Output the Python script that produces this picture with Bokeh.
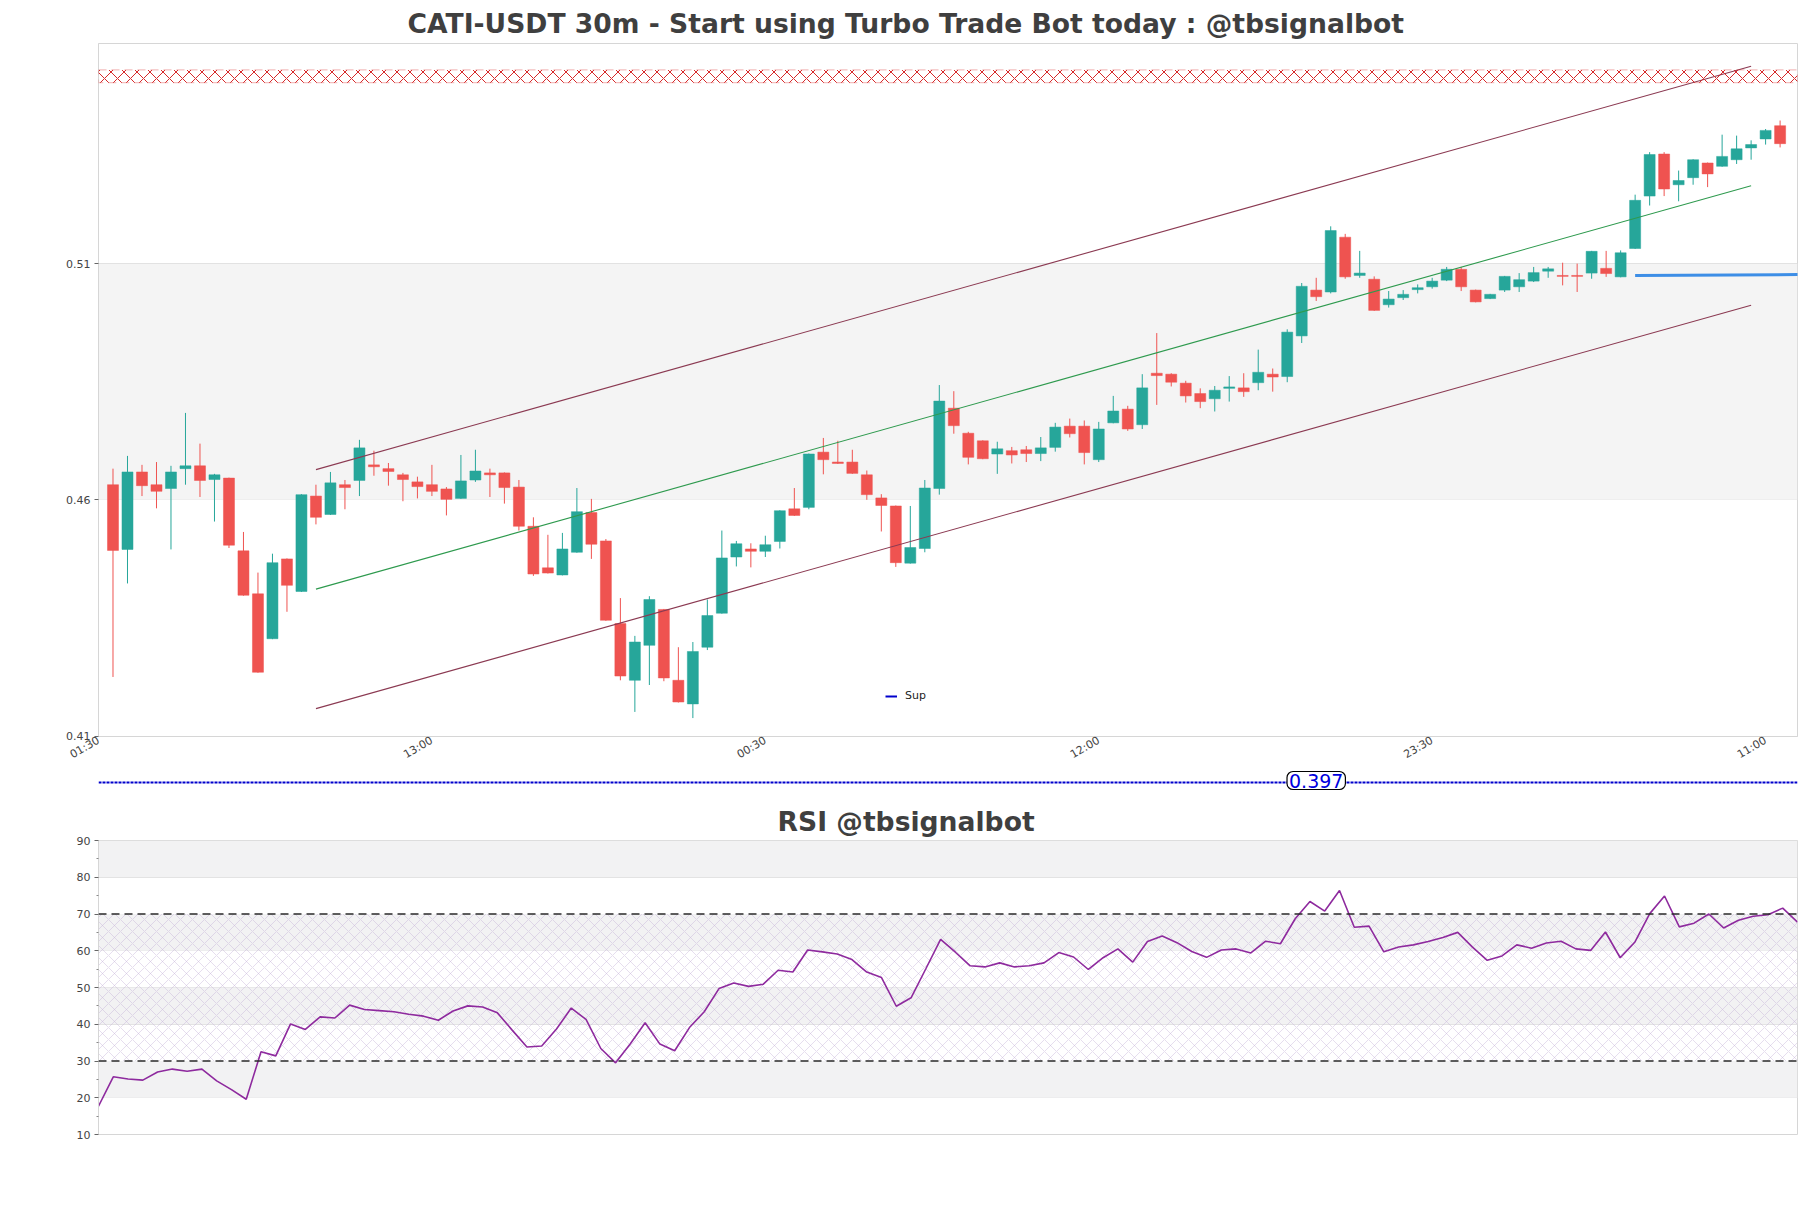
import math
from bokeh.plotting import figure
from bokeh.models import (Range1d, ColumnDataSource, FixedTicker, Span, Label,
                          Legend, LegendItem, BoxAnnotation)
from bokeh.layouts import column
from bokeh.embed import file_html
from bokeh.resources import INLINE

TITLE = "CATI-USDT 30m - Start using Turbo Trade Bot today : @tbsignalbot"
RSI_TITLE = "RSI @tbsignalbot"

candle_index = list(range(1, 117))
opens = [0.4632, 0.4495, 0.4659, 0.4632, 0.4624, 0.4666, 0.4672, 0.4643, 0.4646, 0.4492,
         0.4401, 0.4306, 0.4475, 0.4406, 0.4608, 0.4569, 0.4632, 0.4641, 0.4674, 0.4666,
         0.4653, 0.4638, 0.4632, 0.4623, 0.4603, 0.4642, 0.4657, 0.4657, 0.4627, 0.4544,
         0.4456, 0.4441, 0.4489, 0.4573, 0.4513, 0.4338, 0.4218, 0.4292, 0.4368, 0.4218,
         0.4168, 0.4288, 0.4360, 0.4479, 0.4496, 0.4491, 0.4512, 0.4581, 0.4584, 0.4701,
         0.4680, 0.4680, 0.4653, 0.4604, 0.4587, 0.4466, 0.4497, 0.4624, 0.4794, 0.4741,
         0.4725, 0.4697, 0.4704, 0.4706, 0.4698, 0.4711, 0.4756, 0.4756, 0.4685, 0.4763,
         0.4792, 0.4759, 0.4868, 0.4866, 0.4847, 0.4825, 0.4814, 0.4836, 0.4837, 0.4848,
         0.4866, 0.4861, 0.4947, 0.5044, 0.5040, 0.5156, 0.5075, 0.5067, 0.5013, 0.5028,
         0.5045, 0.5051, 0.5065, 0.5088, 0.5044, 0.5026, 0.5044, 0.5051, 0.5063, 0.5084,
         0.5075, 0.5075, 0.5080, 0.5090, 0.5072, 0.5132, 0.5243, 0.5332, 0.5267, 0.5282,
         0.5313, 0.5306, 0.5320, 0.5345, 0.5364, 0.5392]
highs = [0.4666, 0.4693, 0.4674, 0.4680, 0.4672, 0.4784, 0.4719, 0.4655, 0.4647, 0.4532,
         0.4446, 0.4486, 0.4476, 0.4612, 0.4632, 0.4659, 0.4642, 0.4727, 0.4704, 0.4678,
         0.4657, 0.4649, 0.4674, 0.4627, 0.4695, 0.4706, 0.4666, 0.4658, 0.4642, 0.4563,
         0.4526, 0.4530, 0.4625, 0.4602, 0.4517, 0.4392, 0.4312, 0.4396, 0.4369, 0.4288,
         0.4299, 0.4389, 0.4535, 0.4513, 0.4508, 0.4524, 0.4578, 0.4625, 0.4698, 0.4731,
         0.4725, 0.4706, 0.4662, 0.4612, 0.4588, 0.4587, 0.4642, 0.4843, 0.4830, 0.4744,
         0.4726, 0.4723, 0.4712, 0.4714, 0.4733, 0.4763, 0.4772, 0.4768, 0.4765, 0.4820,
         0.4799, 0.4866, 0.4953, 0.4868, 0.4852, 0.4836, 0.4841, 0.4862, 0.4868, 0.4918,
         0.4878, 0.4961, 0.5059, 0.5070, 0.5179, 0.5163, 0.5127, 0.5073, 0.5042, 0.5044,
         0.5056, 0.5070, 0.5093, 0.5093, 0.5045, 0.5036, 0.5074, 0.5080, 0.5093, 0.5093,
         0.5102, 0.5100, 0.5127, 0.5127, 0.5128, 0.5246, 0.5336, 0.5336, 0.5297, 0.5321,
         0.5314, 0.5373, 0.5371, 0.5361, 0.5385, 0.5403]
lows = [0.4225, 0.4423, 0.4608, 0.4582, 0.4495, 0.4632, 0.4606, 0.4554, 0.4498, 0.4397,
        0.4234, 0.4305, 0.4363, 0.4405, 0.4548, 0.4568, 0.4580, 0.4608, 0.4651, 0.4630,
        0.4597, 0.4603, 0.4608, 0.4567, 0.4602, 0.4638, 0.4606, 0.4592, 0.4535, 0.4439,
        0.4444, 0.4440, 0.4488, 0.4475, 0.4344, 0.4218, 0.4151, 0.4208, 0.4216, 0.4171,
        0.4138, 0.4282, 0.4359, 0.4459, 0.4457, 0.4479, 0.4497, 0.4566, 0.4580, 0.4654,
        0.4676, 0.4655, 0.4600, 0.4533, 0.4458, 0.4465, 0.4489, 0.4611, 0.4740, 0.4675,
        0.4686, 0.4655, 0.4677, 0.4680, 0.4682, 0.4702, 0.4732, 0.4675, 0.4680, 0.4762,
        0.4746, 0.4750, 0.4801, 0.4840, 0.4806, 0.4794, 0.4787, 0.4808, 0.4818, 0.4832,
        0.4829, 0.4849, 0.4932, 0.5021, 0.5037, 0.5068, 0.5070, 0.5000, 0.5007, 0.5023,
        0.5037, 0.5047, 0.5063, 0.5042, 0.5018, 0.5025, 0.5040, 0.5040, 0.5061, 0.5070,
        0.5054, 0.5040, 0.5068, 0.5072, 0.5071, 0.5131, 0.5223, 0.5243, 0.5232, 0.5267,
        0.5262, 0.5305, 0.5311, 0.5320, 0.5352, 0.5346]
closes = [0.4493, 0.4659, 0.4630, 0.4618, 0.4659, 0.4672, 0.4641, 0.4653, 0.4504, 0.4398,
          0.4235, 0.4467, 0.4419, 0.4611, 0.4563, 0.4636, 0.4626, 0.4710, 0.4670, 0.4660,
          0.4643, 0.4628, 0.4618, 0.4601, 0.4640, 0.4661, 0.4653, 0.4626, 0.4544, 0.4443,
          0.4445, 0.4496, 0.4575, 0.4506, 0.4345, 0.4227, 0.4299, 0.4389, 0.4223, 0.4172,
          0.4279, 0.4355, 0.4477, 0.4507, 0.4491, 0.4505, 0.4577, 0.4567, 0.4697, 0.4685,
          0.4677, 0.4656, 0.4611, 0.4588, 0.4467, 0.4499, 0.4625, 0.4809, 0.4757, 0.4690,
          0.4687, 0.4708, 0.4695, 0.4698, 0.4710, 0.4754, 0.4740, 0.4700, 0.4750, 0.4788,
          0.4750, 0.4837, 0.4863, 0.4849, 0.4820, 0.4808, 0.4832, 0.4839, 0.4829, 0.4870,
          0.4860, 0.4955, 0.5052, 0.5030, 0.5170, 0.5072, 0.5080, 0.5001, 0.5025, 0.5035,
          0.5049, 0.5063, 0.5088, 0.5051, 0.5019, 0.5035, 0.5073, 0.5066, 0.5081, 0.5089,
          0.5073, 0.5073, 0.5126, 0.5079, 0.5123, 0.5234, 0.5331, 0.5258, 0.5276, 0.5320,
          0.5290, 0.5327, 0.5343, 0.5352, 0.5382, 0.5354]

rsi_values = [17.7, 25.7, 25.1, 24.8, 27.0, 27.8, 27.2, 27.8, 24.6, 22.2,
              19.6, 32.5, 31.4, 40.1, 38.6, 42.0, 41.7, 45.2, 44.0, 43.7,
              43.4, 42.7, 42.2, 41.1, 43.6, 45.0, 44.7, 43.1, 38.4, 33.8,
              34.1, 38.7, 44.4, 41.3, 33.4, 29.5, 34.7, 40.4, 34.6, 32.8,
              39.1, 43.4, 49.7, 51.2, 50.3, 50.9, 54.7, 54.2, 60.2, 59.7,
              59.1, 57.6, 54.2, 52.7, 44.9, 47.2, 55.1, 63.1, 59.6, 55.9,
              55.6, 56.7, 55.6, 55.9, 56.7, 59.5, 58.3, 54.9, 58.1, 60.5,
              56.9, 62.5, 64.0, 62.2, 59.8, 58.2, 60.2, 60.5, 59.4, 62.6,
              61.9, 68.7, 73.4, 70.8, 76.4, 66.4, 66.7, 59.7, 61.0, 61.6,
              62.5, 63.6, 65.0, 61.0, 57.4, 58.6, 61.6, 60.7, 62.1, 62.6,
              60.5, 60.1, 65.1, 58.1, 62.4, 70.1, 74.9, 66.5, 67.5, 70.0,
              66.2, 68.3, 69.4, 69.8, 71.6, 67.8]

x_tick_positions = [0, 23, 46, 69, 92, 115]
x_tick_labels = ["01:30", "13:00", "00:30", "12:00", "23:30", "11:00"]
x_extent = [0, 117.2]
price_extent = [0.4099, 0.5566]
price_ticks = [0.41, 0.46, 0.51]
price_band = [0.46, 0.51]
resistance_zone = [0.5483, 0.5510]
channel_x = [15, 114]
channel_upper = [0.4664, 0.5518]
channel_mid = [0.4411, 0.5265]
channel_lower = [0.4158, 0.5012]
level_x = [106, 118]
level_y = [0.5075, 0.5077]
support_level = 0.397
support_label_x = 84
rsi_extent = [10, 90]
rsi_ticks = [10, 20, 30, 40, 50, 60, 70, 80, 90]
rsi_minor_ticks = [15, 25, 35, 45, 55, 65, 75, 85]
rsi_shaded = [(20, 30), (40, 50), (60, 70), (80, 90)]
rsi_hatch_zone = [30, 70]
rsi_levels = [30, 70]

UP = "#26a69a"
DOWN = "#ef5350"
W = 1808
LEFT = 98
RIGHT = 11
FONT = "DejaVu Sans"

# ---------------- main price chart ----------------
p = figure(width=W, height=769, x_range=Range1d(*x_extent), y_range=Range1d(*price_extent),
           output_backend="svg", toolbar_location=None,
           min_border_left=LEFT, min_border_right=RIGHT, min_border_top=43, min_border_bottom=32)
p.title.text = TITLE
p.title.align = "left"
p.title.offset = 309
p.title.standoff = 9
p.title.text_font = FONT
p.title.text_font_size = "26.6px"
p.title.text_font_style = "bold"
p.title.text_color = "#3f3f3f"
p.outline_line_color = "#d6d6d6"
p.background_fill_color = "white"

p.add_layout(BoxAnnotation(bottom=price_band[0], top=price_band[1], fill_color="#f4f4f4",
                           fill_alpha=1.0, line_alpha=0, level="underlay"))
p.add_layout(BoxAnnotation(bottom=resistance_zone[0], top=resistance_zone[1], fill_alpha=0,
                           hatch_pattern="diagonal_cross", hatch_color="#d62728", hatch_scale=13,
                           hatch_weight=1.0, line_color="#d62728", line_width=1.2, line_dash="8 5"))

colors = [UP if c >= o else DOWN for o, c in zip(opens, closes)]
src = ColumnDataSource(dict(
    x=candle_index,
    top=[max(o, c) for o, c in zip(opens, closes)],
    bottom=[min(o, c) for o, c in zip(opens, closes)],
    high=highs, low=lows, color=colors))
p.segment(x0="x", y0="low", x1="x", y1="high", line_color="color", line_width=1, source=src)
p.vbar(x="x", width=0.76, top="top", bottom="bottom", fill_color="color", line_color="color",
       line_width=0.5, source=src)

p.line(channel_x, channel_upper, line_color="#8b3a52", line_width=1.1)
p.line(channel_x, channel_mid, line_color="#2e9a4e", line_width=1.1)
p.line(channel_x, channel_lower, line_color="#8b3a52", line_width=1.1)
p.line(level_x, level_y, line_color="#3d8ee6", line_width=3)

r_sup = p.line([candle_index[0], candle_index[-1]], [support_level, support_level],
               line_color="#0000cc", line_width=2)
legend = Legend(items=[LegendItem(label="Sup", renderers=[r_sup])], location=(787, 34),
                border_line_alpha=0, background_fill_alpha=0, padding=0, margin=0,
                glyph_width=12, glyph_height=12, label_height=12, label_standoff=8,
                label_text_font=FONT, label_text_font_size="11px", label_text_color="#222222")
p.add_layout(legend)

p.xgrid.visible = False
p.ygrid.ticker = FixedTicker(ticks=price_ticks)
p.ygrid.grid_line_color = "#dcdcdc"
p.yaxis.ticker = FixedTicker(ticks=price_ticks)
p.xaxis.ticker = FixedTicker(ticks=x_tick_positions)
p.xaxis.major_label_overrides = {t: l for t, l in zip(x_tick_positions, x_tick_labels)}
p.xaxis.major_label_orientation = math.pi / 6
for ax in (p.xaxis, p.yaxis):
    ax.axis_line_color = "#d6d6d6"
    ax.major_label_text_font = FONT
    ax.major_label_text_font_size = "11px"
    ax.major_label_text_color = "#444444"
    ax.major_tick_line_color = "#666666"
    ax.minor_tick_line_color = None
    ax.major_tick_in = 0
p.yaxis.major_tick_out = 4
p.xaxis.major_tick_out = 0
p.xaxis.major_label_standoff = 3
p.yaxis.major_label_standoff = 4

# ---------------- support line strip ----------------
p2 = figure(width=W, height=30, x_range=p.x_range,
            y_range=Range1d(support_level - 0.017, support_level + 0.013),
            x_axis_type=None, y_axis_type=None, output_backend="svg", toolbar_location=None,
            min_border_left=LEFT, min_border_right=RIGHT, min_border_top=0, min_border_bottom=0)
p2.outline_line_color = None
p2.grid.visible = False
p2.add_layout(Span(location=support_level, dimension="width", line_color="#0000cc",
                   line_width=2.2, line_dash="3 1"))
p2.add_layout(Label(x=support_label_x, y=support_level, y_offset=2, text=f"{support_level:.3f}",
                    text_align="center", text_baseline="middle", text_color="#0000dd",
                    text_font=FONT, text_font_size="19px", background_fill_color="white",
                    border_line_color="black", border_line_width=1.2, border_radius=6, padding=2))

# ---------------- RSI chart ----------------
p3 = figure(width=W, height=345, x_range=Range1d(candle_index[0], candle_index[-1]),
            y_range=Range1d(*rsi_extent), x_axis_type=None, output_backend="svg",
            toolbar_location=None, min_border_left=LEFT, min_border_right=RIGHT,
            min_border_top=41, min_border_bottom=10)
p3.title.text = RSI_TITLE
p3.title.align = "left"
p3.title.offset = 679
p3.title.standoff = 8
p3.title.text_font = FONT
p3.title.text_font_size = "26.6px"
p3.title.text_font_style = "bold"
p3.title.text_color = "#3f3f3f"
p3.outline_line_color = "#d6d6d6"

for b, t in rsi_shaded:
    p3.add_layout(BoxAnnotation(bottom=b, top=t, fill_color="#f2f2f3", fill_alpha=1.0,
                                line_alpha=0, level="underlay"))
p3.add_layout(BoxAnnotation(bottom=rsi_hatch_zone[0], top=rsi_hatch_zone[1], fill_alpha=0,
                            hatch_pattern="diagonal_cross", hatch_color="#c2b0d6",
                            hatch_alpha=0.7, hatch_scale=12, hatch_weight=0.6, line_alpha=0,
                            level="underlay"))
p3.xgrid.visible = False
p3.ygrid.ticker = FixedTicker(ticks=rsi_ticks)
p3.ygrid.grid_line_color = "#dedede"
for lv in rsi_levels:
    p3.add_layout(Span(location=lv, dimension="width", line_color="#2a2a2a",
                       line_width=1.3, line_dash="8 5"))
p3.line(candle_index, rsi_values, line_color="#8e2a9e", line_width=1.6)

p3.yaxis.ticker = FixedTicker(ticks=rsi_ticks, minor_ticks=rsi_minor_ticks)
p3.yaxis.axis_line_color = "#d6d6d6"
p3.yaxis.major_label_text_font = FONT
p3.yaxis.major_label_text_font_size = "11px"
p3.yaxis.major_label_text_color = "#444444"
p3.yaxis.major_tick_line_color = "#666666"
p3.yaxis.minor_tick_line_color = "#888888"
p3.yaxis.major_tick_in = 0
p3.yaxis.major_tick_out = 4
p3.yaxis.minor_tick_in = 0
p3.yaxis.minor_tick_out = 2
p3.yaxis.major_label_standoff = 4

layout = column(p, p2, p3)
open("out.html", "w").write(file_html(layout, INLINE))
